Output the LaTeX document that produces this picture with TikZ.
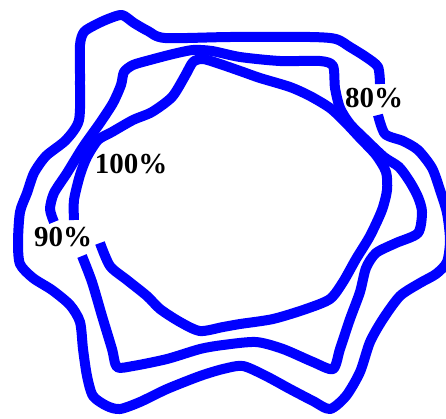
\documentclass[tikz,border=0pt]{standalone}
\usepackage{fontspec}
\setmainfont{Liberation Serif}
\tikzset{
  contour/.style={draw=blue, line width=10pt, line join=round, line cap=butt},
  pct/.style={font=\fontsize{29}{30}\selectfont\bfseries, text=black, inner sep=0pt}
}
\begin{document}
\begin{tikzpicture}[x=1pt, y=-1pt]
\useasboundingbox (0,0) rectangle (446,418);
\begin{scope}
\clip (0,0) rectangle (446,418);
% outer contour
\draw[contour] plot[smooth, tension=0.45] coordinates {
 (380,84) (378,67) (366,57) (350,47) (336,39) (310,37) (230,37) (165,38)
 (148,31) (134,23) (122,15) (108,19) (95,25) (84,32) (80,45) (80,80) (79,120)
 (66,140) (46,156) (34,173) (27,193) (20,212) (18,242) (20,264) (33,278)
 (52,290) (70,305) (80,322) (83,349) (87,376) (93,396) (107,406) (120,409)
 (140,402) (167,389) (200,376) (223,369) (243,366) (266,376) (290,389)
 (313,401) (330,409) (346,396) (360,372) (370,342) (383,319) (400,296)
 (420,283) (436,274) (447,262) (450,240) (447,213) (440,190) (432,168)
 (418,150) (403,141) (385,134) (378,115)};
% middle contour
\draw[contour] plot[smooth, tension=0.45] coordinates {
 (82,256) (92,282) (102,316) (112,349) (117,367) (133,366) (167,359)
 (200,349) (223,345) (256,342) (283,349) (313,362) (333,369) (340,349)
 (350,319) (360,292) (366,268) (376,253) (396,243) (418,233) (422,212)
 (418,197) (410,182) (399,167) (384,157) (366,140) (350,124) (340,108)
 (335,88) (333,66) (320,61) (280,61) (240,57) (212,51) (193,50) (173,54)
 (150,60) (133,65) (124,72) (121,85) (113,103) (100,123) (83,147) (67,173)
 (54,193) (50,209) (54,222)};
% inner contour
\draw[contour] plot[smooth, tension=0.45] coordinates {
 (100,243) (110,266) (127,280) (147,296) (160,309) (180,322) (200,331)
 (223,327) (240,324) (273,319) (306,309) (330,299) (343,282) (356,259)
 (370,236) (382,210) (387,190) (386,172) (376,155) (360,138) (345,122)
 (330,108) (310,96) (290,87) (260,78) (243,72) (220,64) (203,59) (193,62)
 (185,76) (172,97) (152,112) (133,120) (112,132) (98,140) (87,157)
 (80,175) (74,200) (74,220)};
\end{scope}
\node[pct] (l80) at (374,98) {80\%};
\node[pct] (l100) at (131,164) {100\%};
\node[pct] (l90) at (63,237) {90\%};
\end{tikzpicture}
\end{document}
